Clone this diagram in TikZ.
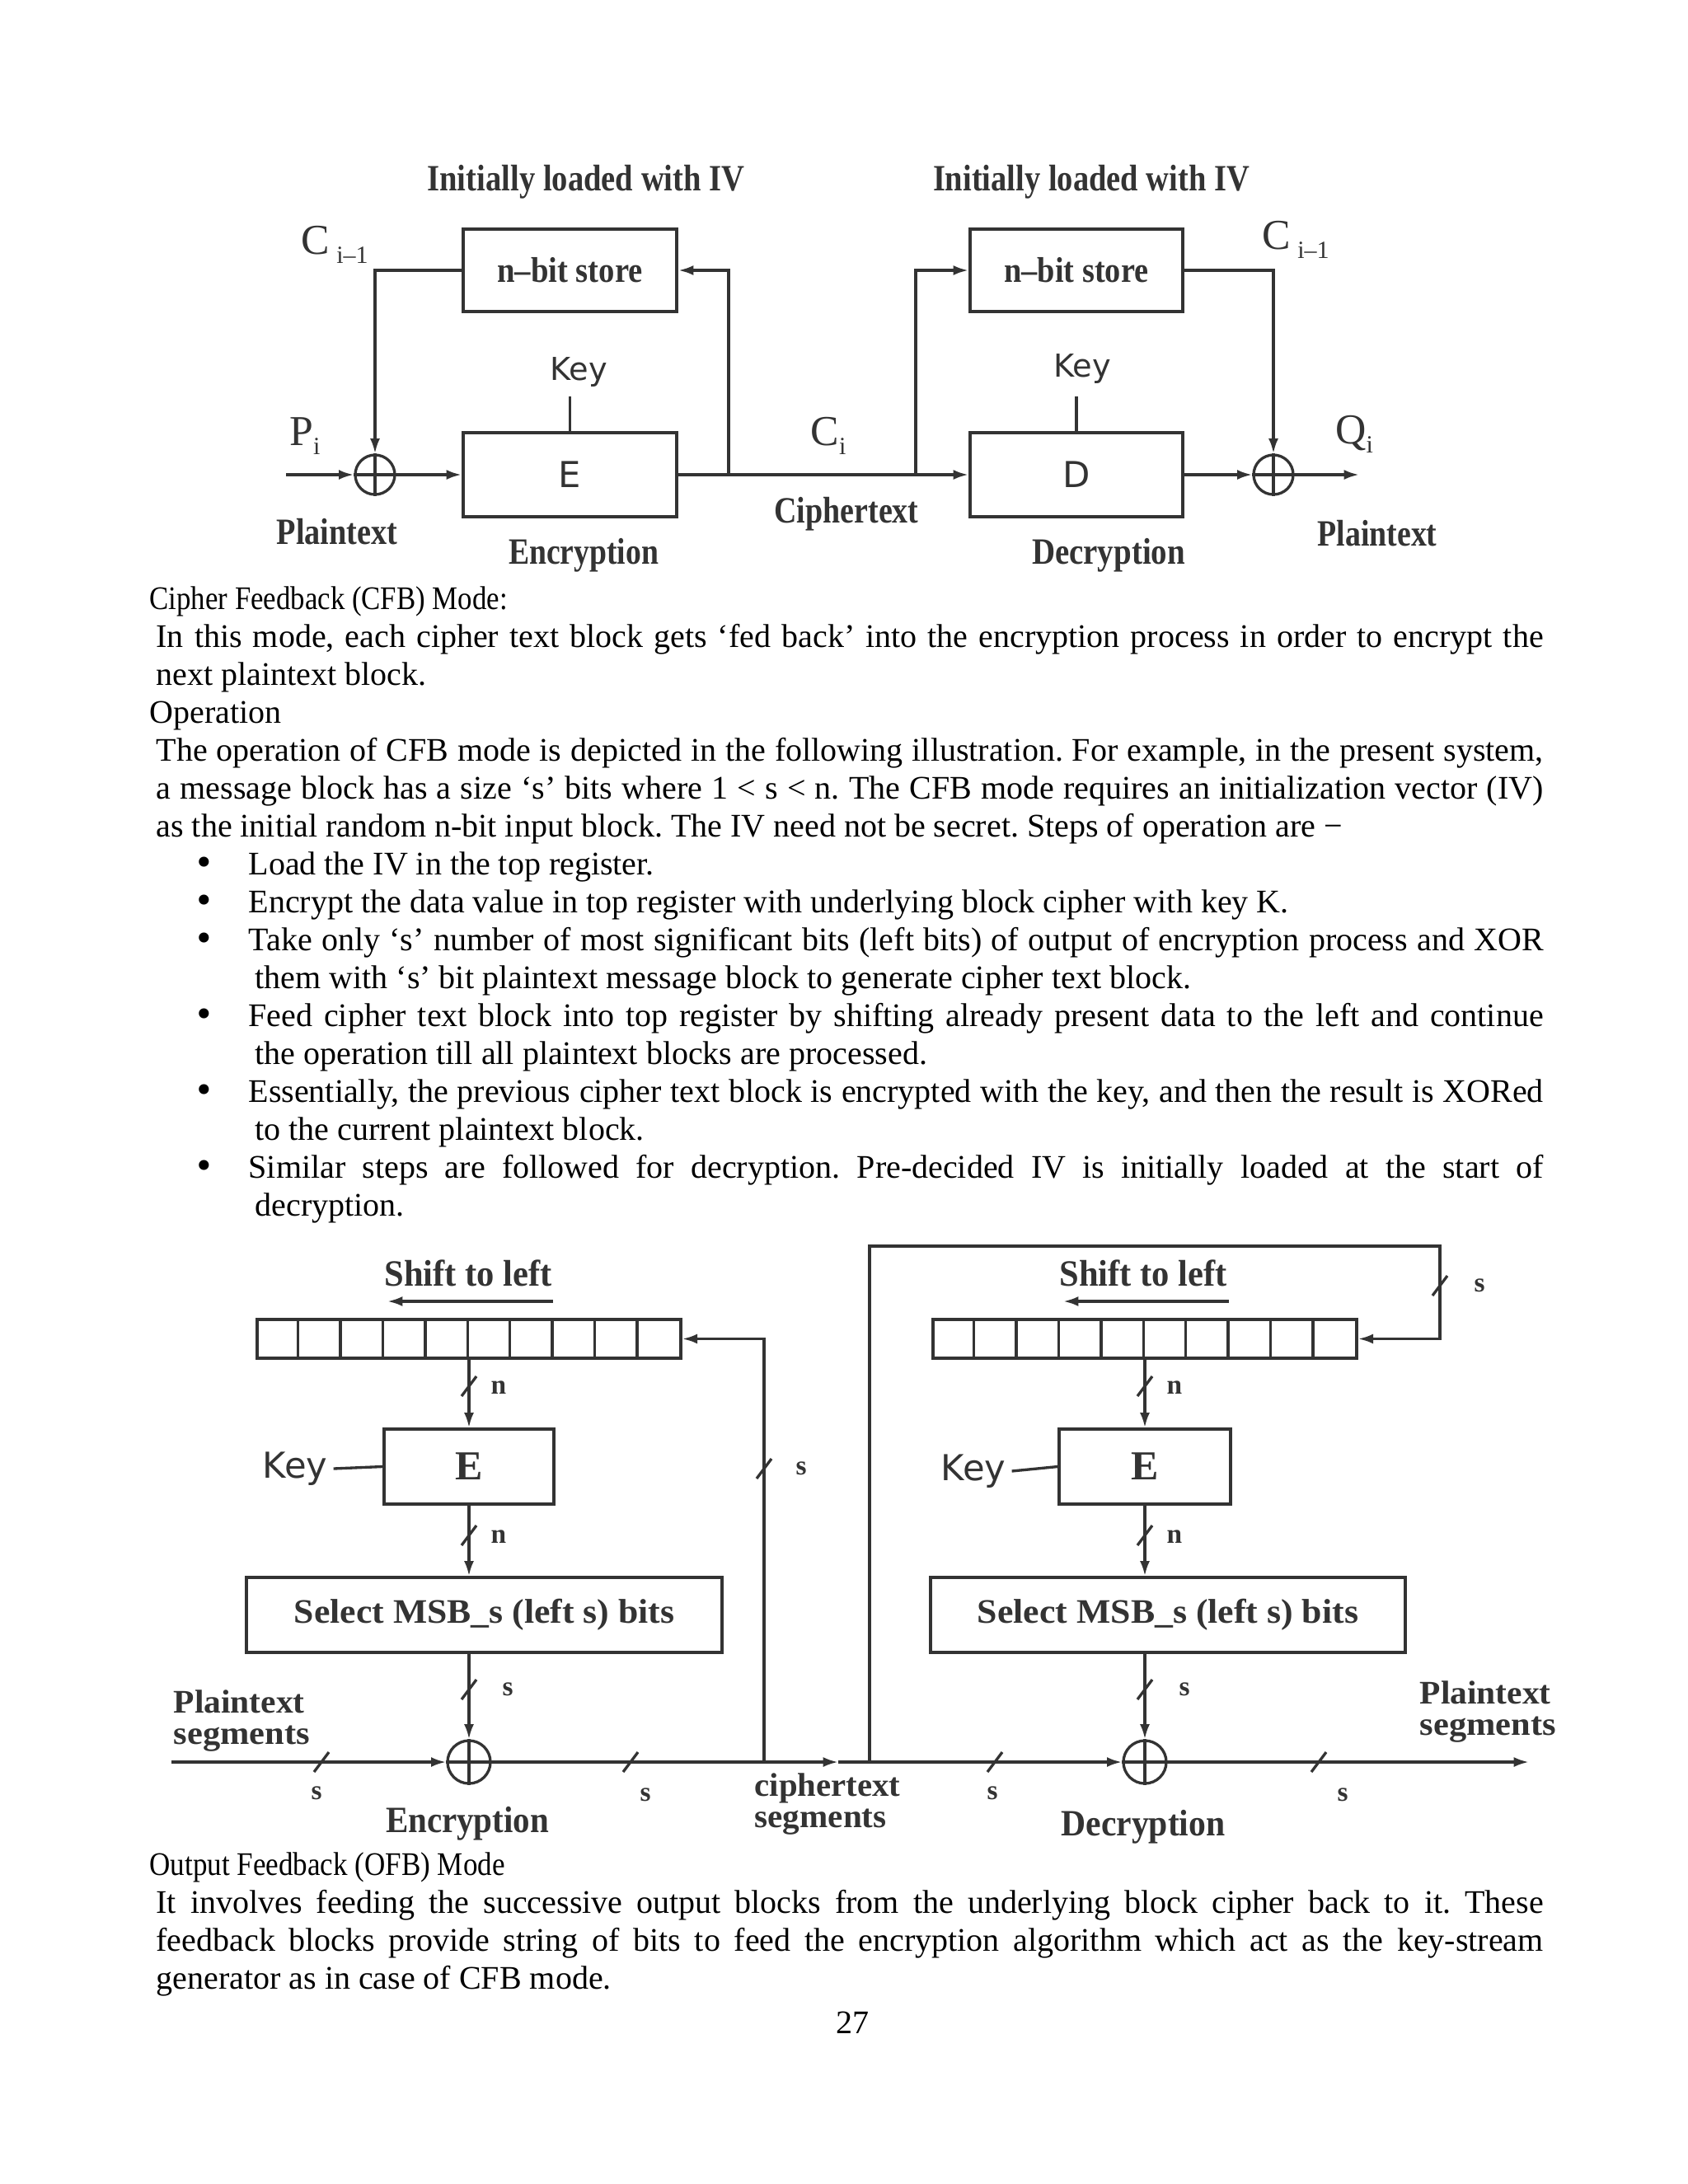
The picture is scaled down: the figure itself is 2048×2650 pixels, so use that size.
\documentclass[tikz,border=0pt]{standalone}
\usepackage{fontspec}
\usepackage{graphicx}
\setmainfont{Liberation Serif}
\newfontfamily\keyfont{DejaVu Sans}
\usetikzlibrary{arrows.meta,calc}
\colorlet{ink}{black!80}
\frenchspacing
\newcommand\fw[3]{\resizebox{#1pt}{\height}{\fontsize{#2}{#2}\selectfont #3}}
\newcommand\subx[1]{\raisebox{-0.45ex}{\fontsize{9}{9}\selectfont #1}}
\tikzset{
  ln/.style={draw=ink, line width=1pt},
  arr/.style={draw=ink, line width=1pt, -{Latex[length=5.5pt,width=3.6pt]}},
  blk/.style={draw=ink, line width=1.2pt, inner sep=0, text=ink, font=\bfseries},
  blk2/.style={draw=ink, line width=1pt, inner sep=0, text=ink, font=\bfseries},
  xor/.style={circle, draw=ink, line width=1pt, inner sep=0},
  lbl/.style={inner sep=0, text=ink, font=\bfseries},
  keyl/.style={inner sep=2pt, text=ink},
  sym/.style={inner sep=0, text=ink, font=\fontsize{15.5}{15.5}\selectfont},
  sm/.style={inner sep=0, text=ink, font=\bfseries\fontsize{10}{10}\selectfont},
  two/.style={inner sep=0, text=ink, anchor=west, align=left, font=\bfseries\fontsize{12}{11.6}\selectfont},
  txt/.style={anchor=base west, inner sep=0, font=\fontsize{12}{14}\selectfont},
  bul/.style={anchor=base, inner sep=0, font=\fontsize{12}{14}\selectfont},
  bulx/.style={anchor=base, inner sep=0, font=\keyfont\fontsize{12.5}{13}\selectfont}
}
\begin{document}
\begin{tikzpicture}[x=0.3pt,y=-0.3pt]
\path[fill=white,use as bounding box] (0,0) rectangle (2048,2650);

% ---------------- Top diagram ----------------
\node[lbl] (ivL) at (711,221) {\fw{115.5}{13.5}{Initially loaded with IV}};
\node[lbl] (ivR) at (1324,221) {\fw{115.2}{13.5}{Initially loaded with IV}};

\node[blk, minimum width=77.7pt, minimum height=30pt] (sL) at (691.5,328) {\fw{53}{13}{n–bit store}};
\node[blk, minimum width=77.4pt, minimum height=30pt] (sR) at (1306,328) {\fw{52.5}{13}{n–bit store}};
\node[blk, minimum width=77.7pt, minimum height=30.6pt, font=\keyfont\fontsize{13}{13}\selectfont] (eL) at (691.5,576) {E};
\node[blk, minimum width=77.4pt, minimum height=30.6pt, font=\keyfont\fontsize{13}{13}\selectfont] (dR) at (1306,576) {D};

\node[xor, minimum size=14.4pt] (xL) at (455,576) {};
\draw[ln] (xL.north) -- (xL.south) (xL.west) -- (xL.east);
\node[xor, minimum size=14.4pt] (xR) at (1545,576) {};
\draw[ln] (xR.north) -- (xR.south) (xR.west) -- (xR.east);

\coordinate (inT) at (347,576);
\coordinate (fbT) at (884,576);
\coordinate (cT) at (1111,576);
\coordinate (outT) at (1649,576);
\draw[arr] (inT) -- (xL.west);
\draw[arr] (xL.east) -- (eL.west);
\draw[arr] (sL.west) -| (xL.north);
\draw[ln] (eL.east) -- (cT);
\draw[arr] (cT) -- (dR.west);
\draw[arr] (fbT) |- (sL.east);
\draw[arr] (cT) |- (sR.west);
\draw[arr] (sR.east) -| (xR.north);
\draw[arr] (dR.east) -- (xR.west);
\draw[arr] (xR.east) -- (outT);

\node[keyl, font=\keyfont\fontsize{11.5}{12}\selectfont] (kL) at (702,452) {Key};
\draw[ln] (eL.north) -- ++(0,-42);
\node[keyl, font=\keyfont\fontsize{11.5}{12}\selectfont] (kR) at (1313,448) {Key};
\draw[ln] (dR.north) -- ++(0,-42);

\node[sym] (cL) at (406,297) {C\,\subx{i–1}};
\node[sym] (cR) at (1572,291) {C\,\subx{i–1}};
\node[sym] (pI) at (370,529) {P\subx{i}};
\node[sym] (cI) at (1005,529) {C\subx{i}};
\node[sym] (qI) at (1643,527) {Q\subx{i}};

\node[lbl] (ptL) at (409,645) {\fw{44}{13.5}{Plaintext}};
\node[lbl] (encT) at (708,674) {\fw{54.6}{13.5}{Encryption}};
\node[lbl] (ctT) at (1027,624) {\fw{52.5}{13.5}{Ciphertext}};
\node[lbl] (decT) at (1345,674) {\fw{55.8}{13.5}{Decryption}};
\node[lbl] (ptR) at (1671,647) {\fw{43.5}{13.5}{Plaintext}};

% ---------------- Text block 1 ----------------
\node[txt] (h1) at (181,739) {\resizebox{130.2pt}{\height}{Cipher Feedback (CFB) Mode:}};
\node[txt] (t1) at (189,785) {\makebox[504.9pt][s]{In this mode, each cipher text block gets ‘fed back’ into the encryption process in order to encrypt the}};
\node[txt] (t2) at (189,831) {next plaintext block.};
\node[txt] (t3) at (181,877) {Operation};
\node[txt] (t4) at (189,923) {\makebox[504.9pt][s]{The operation of CFB mode is depicted in the following illustration. For example, in the present system,}};
\node[txt] (t5) at (189,969) {\makebox[504.9pt][s]{a message block has a size ‘s’ bits where 1 < s < n. The CFB mode requires an initialization vector (IV)}};
\node[txt] (t6) at (189,1015) {as the initial random n-bit input block. The IV need not be secret. Steps of operation are −};

\foreach \yy [count=\i] in {1061,1107,1153,1245,1337,1429}
  \node[bulx] (b\i) at (248,\yy) {•};
\node[txt] (u1) at (301,1061) {Load the IV in the top register.};
\node[txt] (u2) at (301,1107) {Encrypt the data value in top register with underlying block cipher with key K.};
\node[txt] (u3) at (301,1153) {\makebox[471.3pt][s]{Take only ‘s’ number of most significant bits (left bits) of output of encryption process and XOR}};
\node[txt] (u3c) at (309,1199) {them with ‘s’ bit plaintext message block to generate cipher text block.};
\node[txt] (u4) at (301,1245) {\makebox[471.3pt][s]{Feed cipher text block into top register by shifting already present data to the left and continue}};
\node[txt] (u4c) at (309,1291) {the operation till all plaintext blocks are processed.};
\node[txt] (u5) at (301,1337) {\makebox[471.3pt][s]{Essentially, the previous cipher text block is encrypted with the key, and then the result is XORed}};
\node[txt] (u5c) at (309,1383) {to the current plaintext block.};
\node[txt] (u6) at (301,1429) {\makebox[471.3pt][s]{Similar steps are followed for decryption. Pre-decided IV is initially loaded at the start of}};
\node[txt] (u6c) at (309,1475) {decryption.};

% ---------------- Bottom diagram ----------------
\node[lbl] (shL) at (568,1545) {\fw{61}{13.5}{Shift to left}};
\node[lbl] (shR) at (1387,1545) {\fw{61}{13.5}{Shift to left}};
\coordinate (saL1) at (671,1579); \coordinate (saL2) at (470,1579);
\coordinate (saR1) at (1491,1579); \coordinate (saR2) at (1290,1579);
\draw[arr] (saL1) -- (saL2);
\draw[arr] (saR1) -- (saR2);

\node[blk2, minimum width=154.2pt, minimum height=14.1pt] (regL) at (569,1624.5) {};
\node[blk2, minimum width=154.2pt, minimum height=14.1pt] (regR) at (1389,1624.5) {};
\foreach \k in {1,...,9} {
  \draw[ln] ($(regL.north west)+(\k*51.4,0)$) -- ($(regL.south west)+(\k*51.4,0)$);
  \draw[ln] ($(regR.north west)+(\k*51.4,0)$) -- ($(regR.south west)+(\k*51.4,0)$);
}

\node[blk2, minimum width=61.8pt, minimum height=27.3pt, font=\bfseries\fontsize{15}{15}\selectfont] (e2L) at (569,1779.5) {E};
\node[blk2, minimum width=62.4pt, minimum height=27.3pt, font=\bfseries\fontsize{15}{15}\selectfont] (e2R) at (1389,1779.5) {E};
\node[blk2, minimum width=173.1pt, minimum height=27.3pt] (selL) at (587.5,1959.5) {\fw{138.3}{12.5}{Select MSB\_s (left s) bits}};
\node[blk2, minimum width=172.8pt, minimum height=27.3pt] (selR) at (1417,1959.5) {\fw{138.6}{12.5}{Select MSB\_s (left s) bits}};

\node[xor, minimum size=15.6pt] (x2L) at (569,2138) {};
\draw[ln] (x2L.north) -- (x2L.south) (x2L.west) -- (x2L.east);
\node[xor, minimum size=15.6pt] (x2R) at (1389,2138) {};
\draw[ln] (x2R.north) -- (x2R.south) (x2R.west) -- (x2R.east);

\draw[arr] (regL.south) -- (e2L.north);
\draw[arr] (e2L.south) -- (e2L.south |- selL.north);
\draw[arr] (e2L.south |- selL.south) -- (x2L.north);
\draw[arr] (regR.south) -- (e2R.north);
\draw[arr] (e2R.south) -- (e2R.south |- selR.north);
\draw[arr] (e2R.south |- selR.south) -- (x2R.north);

\node[keyl, font=\keyfont\fontsize{13}{13}\selectfont] (k2L) at (358,1782) {Key};
\draw[ln] (k2L.east) -- (e2L.west);
\node[keyl, font=\keyfont\fontsize{13}{13}\selectfont] (k2R) at (1181,1785) {Key};
\draw[ln] (k2R.east) -- (e2R.west);

\coordinate (inB) at (208,2138);
\coordinate (brL) at (927,2138);
\coordinate (midB) at (1017,2138);
\coordinate (brR) at (1055,2138);
\coordinate (fbTop) at (1747,1512);
\coordinate (outB) at (1855,2138);
\draw[arr] (inB) -- (x2L.west);
\draw[ln] (x2L.east) -- (brL);
\draw[arr] (brL) -- (midB);
\draw[ln] (midB) -- (brR);
\draw[arr] (brR) -- (x2R.west);
\draw[arr] (x2R.east) -- (outB);
\draw[arr] (brL) |- (regL.east);
\draw[arr] (brR) |- (fbTop) |- (regR.east);

% slashes
\foreach \px/\py in {569/1682, 569/1863, 569/2050, 1389/1682, 1389/1863, 1389/2050, 927/1782, 1747/1560,
                     390/2138, 765/2138, 1207/2138, 1600/2138}
  \draw[ln] (\px,\py) ++(-9,12) -- ++(18,-24);

\node[sm] (n1) at (605,1684) {n};
\node[sm] (n2) at (605,1865) {n};
\node[sm] (s1) at (616,2050) {s};
\node[sm] (n3) at (1425,1684) {n};
\node[sm] (n4) at (1425,1865) {n};
\node[sm] (s2) at (1437,2050) {s};
\node[sm] (s3) at (972,1782) {s};
\node[sm] (s4) at (1795,1560) {s};
\node[sm] (s5) at (384,2176) {s};
\node[sm] (s6) at (783,2178) {s};
\node[sm] (s7) at (1204,2176) {s};
\node[sm] (s8) at (1629,2178) {s};

\node[two] (psL) at (210,2088) {\fw{47.7}{12}{Plaintext}\\\fw{49.5}{12}{segments}};
\node[two] (psR) at (1722,2077) {\fw{47.7}{12}{Plaintext}\\\fw{49.5}{12}{segments}};
\node[two] (csB) at (915,2189) {\fw{53}{12}{ciphertext}\\\fw{48}{12}{segments}};
\node[lbl] (encB) at (567,2213) {\fw{59.4}{13.5}{Encryption}};
\node[lbl] (decB) at (1387,2217) {\fw{59.7}{13.5}{Decryption}};

% ---------------- Text block 2 ----------------
\node[txt] (h2) at (181,2275) {\resizebox{129.3pt}{\height}{Output Feedback (OFB) Mode}};
\node[txt] (o1) at (189,2321) {\makebox[504.9pt][s]{It involves feeding the successive output blocks from the underlying block cipher back to it. These}};
\node[txt] (o2) at (189,2367) {\makebox[504.9pt][s]{feedback blocks provide string of bits to feed the encryption algorithm which act as the key-stream}};
\node[txt] (o3) at (189,2413) {generator as in case of CFB mode.};
\node[bul] (pg) at (1034,2467) {27};
\end{tikzpicture}
\end{document}
